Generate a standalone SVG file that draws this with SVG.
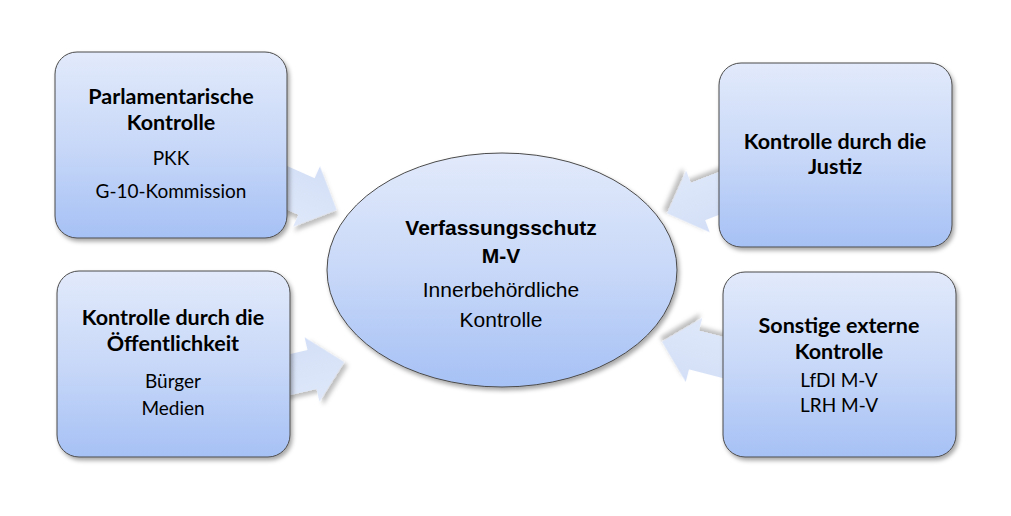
<svg xmlns="http://www.w3.org/2000/svg" width="1011" height="516" viewBox="0 0 1011 516">
<defs>
<linearGradient id="gBox" x1="0" y1="0" x2="0" y2="1">
<stop offset="0" stop-color="#e2eafb"/>
<stop offset="0.5" stop-color="#c8d8f8"/>
<stop offset="1" stop-color="#a6c1f5"/>
</linearGradient>
<linearGradient id="gArrow" x1="0" y1="0" x2="0" y2="1">
<stop offset="0" stop-color="#d3dff7"/>
<stop offset="1" stop-color="#dfe8fa"/>
</linearGradient>
<filter id="sh" x="-20%" y="-20%" width="140%" height="140%">
<feDropShadow dx="2" dy="3" stdDeviation="2" flood-color="#000" flood-opacity="0.35"/>
</filter>
<filter id="shA" x="-30%" y="-30%" width="160%" height="160%">
<feDropShadow dx="3" dy="4" stdDeviation="2" flood-color="#000" flood-opacity="0.25"/>
</filter>
<path id="arr" d="M-45,-20 L0,-20 L0,-33 L33,0 L0,33 L0,20 L-45,20 Z"/>
</defs>
<style>
.box{fill:url(#gBox);stroke:#4a4a4a;stroke-width:1;filter:url(#sh)}
.arrow{fill:url(#gArrow);filter:url(#shA)}
.t{font-family:Lato,"Open Sans",sans-serif;font-size:19px;fill:#000;text-anchor:middle}
.t.b{font-weight:bold;font-size:21.5px}
.c{font-family:"Liberation Sans",Arial,sans-serif;font-size:21px;fill:#000;text-anchor:middle}
.c.b{font-weight:bold}
</style>
<rect width="1011" height="516" fill="#fff"/>
<g id="connectors">
<use href="#arr" class="arrow" transform="translate(306.5,196.5) rotate(24)"/>
<use href="#arr" class="arrow" transform="translate(312,369.5) rotate(-13)"/>
<use href="#arr" class="arrow" transform="translate(698,201.5) rotate(159)"/>
<use href="#arr" class="arrow" transform="translate(694,350) rotate(194.5)"/>
</g>
<g id="center">
<ellipse cx="502" cy="270" rx="175" ry="117" class="box"/>
<text class="c b" x="501" y="235">Verfassungsschutz</text>
<text class="c b" x="501" y="263">M-V</text>
<text class="c" x="501" y="297">Innerbehördliche</text>
<text class="c" x="501" y="327">Kontrolle</text>
</g>
<g id="parlament">
<rect x="55" y="52" width="232" height="186" rx="22" class="box"/>
<text class="t b" x="171" y="104">Parlamentarische</text>
<text class="t b" x="171" y="130">Kontrolle</text>
<text class="t" x="171" y="165">PKK</text>
<text class="t" x="171" y="198">G-10-Kommission</text>
</g>
<g id="oeffentlichkeit">
<rect x="57" y="271" width="233" height="186" rx="22" class="box"/>
<text class="t b" x="173" y="325">Kontrolle durch die</text>
<text class="t b" x="173" y="351">Öffentlichkeit</text>
<text class="t" x="173" y="388">Bürger</text>
<text class="t" x="173" y="415">Medien</text>
</g>
<g id="justiz">
<rect x="719" y="63" width="233" height="184" rx="22" class="box"/>
<text class="t b" x="835" y="149">Kontrolle durch die</text>
<text class="t b" x="835" y="174">Justiz</text>
</g>
<g id="sonstige">
<rect x="723" y="272" width="233" height="185" rx="22" class="box"/>
<text class="t b" x="839" y="333">Sonstige externe</text>
<text class="t b" x="839" y="359">Kontrolle</text>
<text class="t" x="839" y="387">LfDI M-V</text>
<text class="t" x="839" y="412">LRH M-V</text>
</g>
</svg>
